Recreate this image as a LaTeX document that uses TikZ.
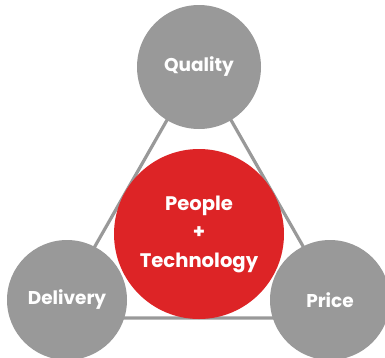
\documentclass[tikz,border=0pt]{standalone}
\usepackage{fontspec}
\setmainfont{Poppins}
\definecolor{ringgray}{RGB}{153,153,153}
\definecolor{corered}{RGB}{221,36,38}
\begin{document}
\begin{tikzpicture}[x=1pt,y=-1pt,
  bubble/.style={circle,fill=ringgray,draw=none,inner sep=0pt,text=white,font=\bfseries\fontsize{18.5}{22}\selectfont},
  core/.style={circle,fill=corered,draw=none,inner sep=0pt,text=white,align=center,font=\bfseries\fontsize{19.6}{28.5}\selectfont},
  link/.style={draw=ringgray,line width=3.2pt}]
\useasboundingbox (0,0) rectangle (385,357);
\clip (0,0) rectangle (385,357);
\coordinate (tA) at (199,64);
\coordinate (tB) at (54,318);
\coordinate (tC) at (344,318);
\draw[link] (tA) -- (tB) -- (tC) -- cycle;
\node[bubble,minimum size=124pt] (quality) at (199,67) {Quality};
\node[bubble,minimum size=120pt] (delivery) at (67,300) {Delivery};
\node[bubble,minimum size=120pt] (price) at (330,300) {Price};
\node[core,minimum size=170pt] (core) at (199,234) {People\\+\\Technology};
\end{tikzpicture}
\end{document}
